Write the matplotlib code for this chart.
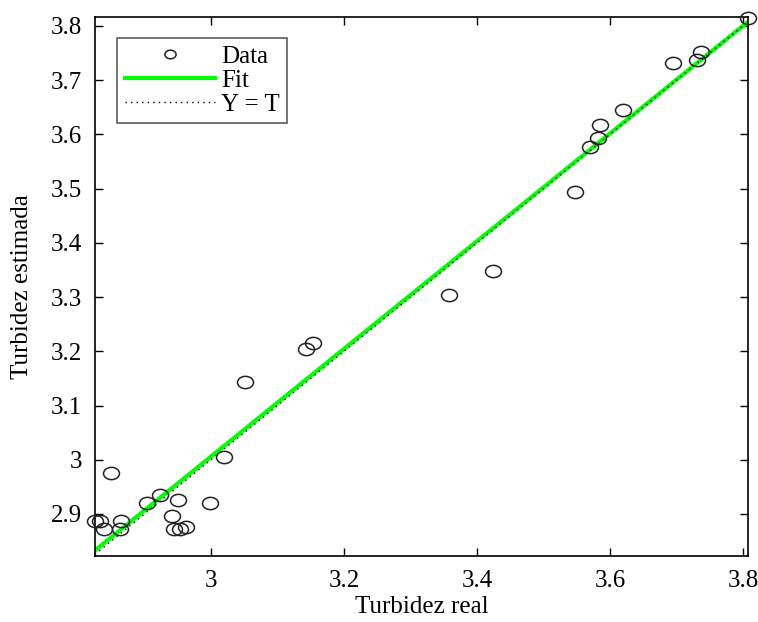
import numpy as np
from matplotlib import pyplot as plt
from matplotlib.path import Path
from matplotlib.transforms import Affine2D

# real vs estimated turbidity values
turb_real = [2.826, 2.833, 2.839, 2.850, 2.865, 2.863, 2.904, 2.923, 2.950, 2.941,
             2.944, 2.953, 2.962, 2.998, 3.020, 3.051, 3.143, 3.153, 3.358, 3.424,
             3.547, 3.570, 3.582, 3.585, 3.620, 3.695, 3.731, 3.737, 3.808]
turb_est = [2.887, 2.887, 2.872, 2.976, 2.887, 2.872, 2.920, 2.935, 2.926, 2.896,
            2.872, 2.872, 2.876, 2.920, 3.005, 3.144, 3.204, 3.215, 3.304, 3.348,
            3.494, 3.577, 3.594, 3.618, 3.645, 3.732, 3.738, 3.752, 3.815]
fit_slope = 0.993
fit_icpt = 0.027

xlim = (2.8256, 3.8075)
ylim = (2.8225, 3.8166)
xticks = [3, 3.2, 3.4, 3.6, 3.8]
yticks = [2.9, 3, 3.1, 3.2, 3.3, 3.4, 3.5, 3.6, 3.7, 3.8]

plt.rcParams['font.family'] = ['Liberation Serif', 'DejaVu Serif']

fig = plt.figure(figsize=(7.58, 6.22), dpi=100)
ax = fig.add_axes([0.1253, 0.1061, 0.8615, 0.8666])

# slightly wide ellipse marker like the stretched original
ell = Path.unit_circle().transformed(Affine2D().scale(1.3, 1.0))

xs = np.array(xlim)
ax.plot(turb_real, turb_est, linestyle='none', marker=ell, markersize=11.5,
        markerfacecolor='none', markeredgecolor='#222222', markeredgewidth=1.1,
        label='Data', zorder=3, clip_on=False)
ax.plot(xs, fit_slope*xs + fit_icpt, color='#00ff00', lw=3, label='Fit', zorder=2)
ax.plot(xs, xs, color='k', lw=1, linestyle=(0, (1, 3)), label='Y = T', zorder=2.5)

ax.set_xlim(xlim)
ax.set_ylim(ylim)
ax.set_xticks(xticks)
ax.set_xticklabels(['3', '3.2', '3.4', '3.6', '3.8'])
ax.set_yticks(yticks)
ax.set_yticklabels(['2.9', '3', '3.1', '3.2', '3.3', '3.4', '3.5', '3.6', '3.7', '3.8'])
ax.tick_params(direction='in', top=True, right=True, labelsize=18, length=6, width=1)
ax.tick_params(axis='x', pad=10)
ax.tick_params(axis='y', pad=9)
for s in ax.spines.values():
    s.set_linewidth(1.2)

ax.set_xlabel('Turbidez real', fontsize=18, labelpad=3)
ax.set_ylabel('Turbidez estimada', fontsize=18)
ax.yaxis.set_label_coords(-0.095, 0.5)

leg = ax.legend(loc='upper left', bbox_to_anchor=(0.034, 0.961), fontsize=18,
                frameon=True, fancybox=False, edgecolor='#333333', handlelength=3.6,
                handletextpad=0.25, borderpad=0.3, labelspacing=0.05, borderaxespad=0,
                markerscale=0.7)
leg.get_frame().set_linewidth(1.2)

fig.savefig('out.png', dpi=100)
